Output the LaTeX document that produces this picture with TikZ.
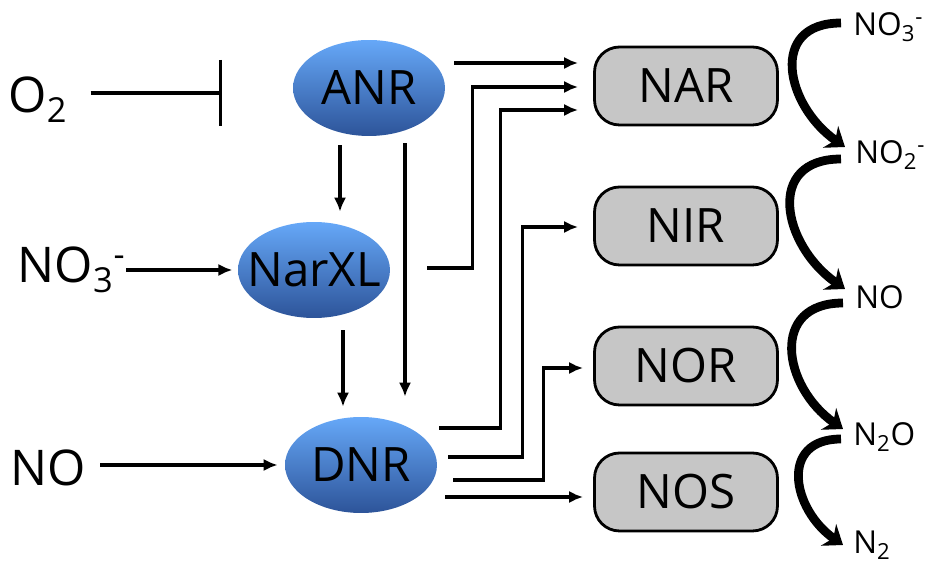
\documentclass[tikz,border=0pt]{standalone}
\usepackage{fontspec}
\setmainfont{Open Sans}
\usetikzlibrary{shapes.geometric,arrows.meta}
\definecolor{reglight}{HTML}{66A8F8}
\definecolor{regdark}{HTML}{2D5499}
\definecolor{enzgray}{HTML}{C6C6C6}
\begin{document}
\begin{tikzpicture}[x=0.02cm,y=-0.02cm,
    reg/.style={ellipse,inner sep=0pt,minimum width=3.04cm,minimum height=1.92cm,
        top color=reglight,bottom color=regdark,font=\fontsize{27}{30}\selectfont},
    enz/.style={draw,line width=1.6pt,rounded corners=0.5cm,fill=enzgray,
        minimum width=3.66cm,minimum height=1.56cm,font=\fontsize{27}{30}\selectfont},
    big/.style={font=\fontsize{28}{30}\selectfont,inner sep=0pt},
    spec/.style={anchor=west,inner sep=0pt,font=\fontsize{18}{20}\selectfont},
    arr/.style={->,>={Latex[length=8pt,width=7pt]},line width=1.8pt},
    conv/.style={-{Stealth[length=10pt,width=15pt]},line width=5pt,out=180,in=145,looseness=1.5}]
    \useasboundingbox (0,0) rectangle (934,563);

    % Regulateurs
    \node[reg] (ANR) at (369,88) {\makebox[0pt]{ANR}};
    \node[reg] (NarXL) at (314,270) {\makebox[0pt]{NarXL}};
    \node[reg] (DNR) at (361,465) {\makebox[0pt]{DNR}};

    % Signaux
    \node[big] (O2) at (38,100) {O\textsubscript{2}};
    \node[big,anchor=east] (NO3in) at (126,270) {NO\textsubscript{3}\textsuperscript{-}};
    \node[big,anchor=west] (NOin) at (10,468) {NO};
    \coordinate (bar) at (222,93);

    % Enzymes
    \node[enz] (NAR) at (686,86) {NAR};
    \node[enz] (NIR) at (686,226) {NIR};
    \node[enz] (NOR) at (686,366) {NOR};
    \node[enz] (NOS) at (686,492) {NOS};

    % Especes
    \node[spec] (n1) at (853,27) {NO\textsubscript{3}\textsuperscript{-}};
    \node[spec] (n2) at (855,155) {NO\textsubscript{2}\textsuperscript{-}};
    \node[spec] (n3) at (855,297) {NO};
    \node[spec] (n4) at (853,437) {N\textsubscript{2}O};
    \node[spec] (n5) at (853,545) {N\textsubscript{2}};

    % Entrees
    \draw[line width=1.8pt,-{Bar[width=1.32cm]},shorten <=13pt] (O2.east |- bar) -- (bar);
    \draw[arr,shorten >=3pt] (NO3in.east |- NarXL.west) -- (NarXL.west);
    \draw[arr,shorten <=8pt,shorten >=4pt] (NOin.east |- DNR.west) -- (DNR.west);

    % Cascade
    \draw[arr] ([shift={(-29,9)}]ANR.south) -- ([shift={(26,-10)}]NarXL.north);
    \draw[arr] ([shift={(36,7)}]ANR.south) -- ([shift={(44,-20)}]DNR.north);
    \draw[arr] ([shift={(29,12)}]NarXL.south) -- ([shift={(-18,-10)}]DNR.north);

    % Vers les enzymes
    \draw[arr] ([shift={(9,-25)}]ANR.east) -- ([shift={(-15,-23)}]NAR.west);
    \draw[arr] ([shift={(37,-2)}]NarXL.east) -- ++(45,0) |- ([shift={(-15,1)}]NAR.west);
    \draw[arr] ([shift={(2,-37)}]DNR.east) -- ++(61,0) |- ([shift={(-15,24)}]NAR.west);
    \draw[arr] ([shift={(11,-8)}]DNR.east) -- ++(74,0) |- ([shift={(-15,1)}]NIR.west);
    \draw[arr] ([shift={(16,15)}]DNR.east) -- ++(90,0) |- ([shift={(-10,2)}]NOR.west);
    \draw[arr] ([shift={(8,32)}]DNR.east) -- ([shift={(-10,5)}]NOS.west);

    % Reductions
    \draw[conv] ([shift={(-12,-4)}]n1.west) to ([shift={(-10,-8)}]n2.west);
    \draw[conv] ([shift={(-14,4)}]n2.west) to ([shift={(-10,-8)}]n3.west);
    \draw[conv] ([shift={(-12,6)}]n3.west) to ([shift={(-10,-8)}]n4.west);
    \draw[conv] ([shift={(-12,2)}]n4.west) to ([shift={(-10,0)}]n5.west);
\end{tikzpicture}
\end{document}
